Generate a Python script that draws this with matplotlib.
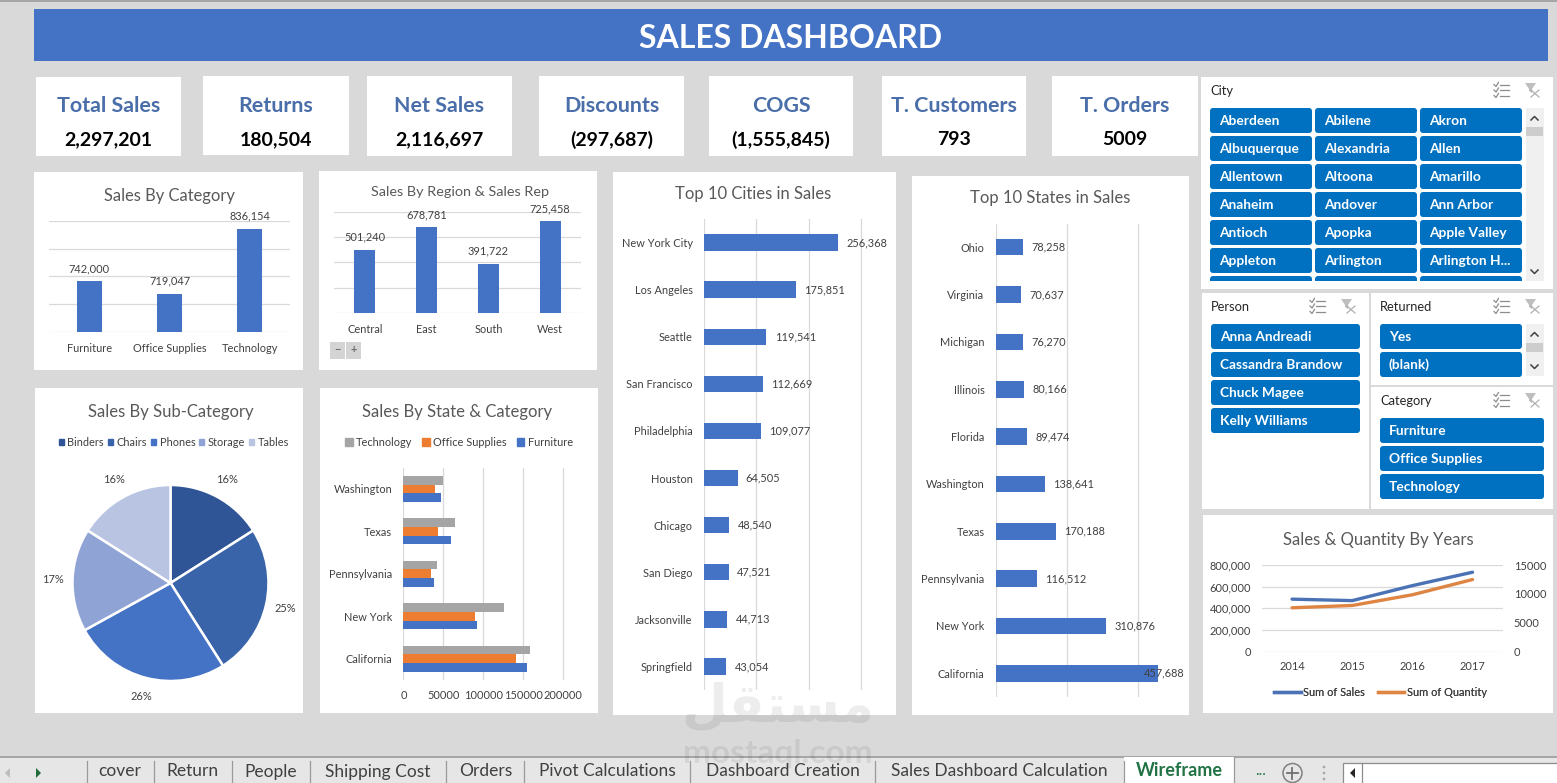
import matplotlib
matplotlib.use('Agg')
import matplotlib.pyplot as plt
from matplotlib.patches import Rectangle, FancyBboxPatch, Circle, Polygon, Patch
from matplotlib.lines import Line2D
from matplotlib.ticker import FuncFormatter

W, H = 1557, 783

kpi_names = ['Total Sales', 'Returns', 'Net Sales', 'Discounts', 'COGS', 'T. Customers', 'T. Orders']
kpi_values = ['2,297,201', '180,504', '2,116,697', '(297,687)', '(1,555,845)', '793', '5009']

category_names = ['Furniture', 'Office Supplies', 'Technology']
category_sales = [742000, 719047, 836154]

region_names = ['Central', 'East', 'South', 'West']
region_sales = [501240, 678781, 391722, 725458]

subcat_names = ['Binders', 'Chairs', 'Phones', 'Storage', 'Tables']
subcat_share = [16, 25, 26, 17, 16]

state_cat_names = ['Washington', 'Texas', 'Pennsylvania', 'New York', 'California']
state_technology = [49300, 64500, 41700, 126100, 158800]
state_office = [39300, 43100, 34100, 89600, 141200]
state_furniture = [47000, 59300, 37900, 92400, 155000]

city_names = ['New York City', 'Los Angeles', 'Seattle', 'San Francisco', 'Philadelphia',
              'Houston', 'Chicago', 'San Diego', 'Jacksonville', 'Springfield']
city_sales = [256368, 175851, 119541, 112669, 109077, 64505, 48540, 47521, 44713, 43054]

state_names = ['Ohio', 'Virginia', 'Michigan', 'Illinois', 'Florida', 'Washington',
               'Texas', 'Pennsylvania', 'New York', 'California']
state_sales = [78258, 70637, 76270, 80166, 89474, 138641, 170188, 116512, 310876, 457688]

years = ['2014', '2015', '2016', '2017']
year_sales = [484247, 470533, 609206, 733215]
year_quantity = [7581, 7979, 9837, 12476]

city_slicer = ['Aberdeen', 'Abilene', 'Akron', 'Albuquerque', 'Alexandria', 'Allen',
               'Allentown', 'Altoona', 'Amarillo', 'Anaheim', 'Andover', 'Ann Arbor',
               'Antioch', 'Apopka', 'Apple Valley', 'Appleton', 'Arlington', 'Arlington H...']
person_slicer = ['Anna Andreadi', 'Cassandra Brandow', 'Chuck Magee', 'Kelly Williams']
returned_slicer = ['Yes', '(blank)']
category_slicer = ['Furniture', 'Office Supplies', 'Technology']

sheet_tabs = ['cover', 'Return', 'People', 'Shipping Cost', 'Orders', 'Pivot Calculations',
              'Dashboard Creation', 'Sales Dashboard Calculation']

BLUE = '#4472C4'
ORANGE = '#ED7D31'
GREY = '#A5A5A5'
SLICER = '#0070C0'
GRID = '#D9D9D9'
TXT = '#404040'
TITLE = '#595959'
FONT = 'Lato'
SMALL = 7.9

plt.rcParams['font.family'] = [FONT, 'DejaVu Sans']

fig = plt.figure(figsize=(W / 100, H / 100), dpi=100, facecolor='#D9D9D9')

# full-size layer in pixel coordinates for cards, slicers and the sheet tabs
bg = fig.add_axes([0, 0, 1, 1], zorder=0)
bg.set_xlim(0, W)
bg.set_ylim(H, 0)
bg.axis('off')


def box(x0, y0, x1, y1, color='white', **kw):
    bg.add_patch(Rectangle((x0, y0), x1 - x0, y1 - y0, facecolor=color, edgecolor='none', **kw))


def px_axes(x0, y0, x1, y1):
    ax = fig.add_axes([x0 / W, 1 - y1 / H, (x1 - x0) / W, (y1 - y0) / H], zorder=2)
    ax.patch.set_alpha(0)
    for s in ax.spines.values():
        s.set_visible(False)
    ax.tick_params(length=0)
    return ax


def panel_title(x, y, label, size):
    bg.text(x, y, label, color=TITLE, fontsize=size, ha='center', va='center')


box(0, 0, W, 1.5, '#A6A6A6')

# header
box(34, 9, 1548, 61, BLUE)
bg.text(791, 38, 'SALES DASHBOARD', color='white', fontsize=23, fontweight='bold', ha='center', va='center')

# kpi cards
kpi_boxes = [(36, 77, 181, 156), (203, 76, 349, 155), (367, 76, 512, 156), (539, 76, 684, 156),
             (709, 76, 853, 156), (882, 76, 1026, 156), (1052, 76, 1198, 156)]
for (x0, y0, x1, y1), name, val in zip(kpi_boxes, kpi_names, kpi_values):
    box(x0, y0, x1, y1)
    bg.text((x0 + x1) / 2, 106, name, color='#4A6EA9', fontsize=15.4, fontweight='bold', ha='center', va='center')
    bg.text((x0 + x1) / 2, 139.5, val, color='black', fontsize=14, fontweight='bold', ha='center', va='center')

# chart panels
box(34, 172, 303, 370)
box(319, 171, 597, 370)
box(35, 388, 303, 713)
box(320, 388, 598, 713)
box(613, 172, 896, 715)
box(912, 176, 1189, 715)
box(1203, 515, 1553, 713)

panel_title(169, 195.5, 'Sales By Category', 11.9)
panel_title(460, 192.5, 'Sales By Region & Sales Rep', 10.4)
panel_title(170.5, 411.5, 'Sales By Sub-Category', 12)
panel_title(457.5, 411.5, 'Sales By State & Category', 12)
panel_title(753, 194.5, 'Top 10 Cities in Sales', 12)
panel_title(1050, 198.5, 'Top 10 States in Sales', 12)
panel_title(1378, 539.5, 'Sales & Quantity By Years', 12)


def column_chart(ax, names, values, ylim, step, width):
    ax.set_axisbelow(True)
    bars = ax.bar(range(len(names)), values, width=width, color=BLUE)
    ax.set_xlim(-0.5, len(names) - 0.5)
    ax.set_ylim(*ylim)
    ax.set_yticks(range(ylim[0], ylim[1] + 1, step))
    ax.set_yticklabels([])
    ax.yaxis.grid(True, color=GRID, lw=0.9)
    ax.set_xticks(range(len(names)))
    ax.set_xticklabels(names, fontsize=SMALL, color=TXT)
    ax.tick_params(axis='x', pad=8)
    ax.bar_label(bars, labels=[f'{v:,}' for v in values], padding=5, fontsize=SMALL, color=TXT)


ax = px_axes(49, 221, 290, 332)
column_chart(ax, category_names, category_sales, (650000, 850000), 50000, 0.31)

ax = px_axes(334, 212, 581, 313)
column_chart(ax, region_names, region_sales, (0, 800000), 200000, 0.34)

# pivot chart field buttons
box(330, 342, 345, 359, '#D4D4D4')
box(346, 342, 361, 359, '#D4D4D4')
bg.text(337.5, 350, '−', color='#707070', fontsize=8, fontweight='bold', ha='center', va='center')
bg.text(353.5, 350, '+', color='#707070', fontsize=8, fontweight='bold', ha='center', va='center')

# pie
pie_colors = ['#2F5597', '#3A64AA', '#4472C4', '#8FA3D5', '#B9C4E3']
ax = px_axes(170.5 - 122.5, 583 - 122.5, 170.5 + 122.5, 583 + 122.5)
wedges, _, autotexts = ax.pie(subcat_share, colors=pie_colors, startangle=90, counterclock=False,
                              autopct='%d%%', pctdistance=1.2, radius=1,
                              wedgeprops=dict(edgecolor='white', linewidth=1.8))
for t in autotexts:
    t.set_fontsize(SMALL)
    t.set_color(TXT)
leg = bg.legend(handles=[Patch(color=c, label=n) for c, n in zip(pie_colors, subcat_names)],
                loc='center', bbox_to_anchor=(174 / W, 1 - 442 / H), bbox_transform=fig.transFigure,
                ncol=5, frameon=False, fontsize=SMALL, handlelength=0.45, handleheight=0.45,
                handletextpad=0.35, columnspacing=0.35, labelcolor=TXT)
bg.add_artist(leg)

# state by category
ax = px_axes(403.5, 467.7, 583, 680)
ypos = list(range(len(state_cat_names)))
bh = 0.205
ax.barh([y - bh for y in ypos], state_technology, height=bh, color=GREY, label='Technology')
ax.barh(ypos, state_office, height=bh, color=ORANGE, label='Office Supplies')
ax.barh([y + bh for y in ypos], state_furniture, height=bh, color=BLUE, label='Furniture')
ax.set_ylim(len(ypos) - 0.5, -0.5)
ax.set_xlim(0, 225000)
ax.set_axisbelow(True)
ax.set_xticks([0, 50000, 100000, 150000, 200000])
ax.xaxis.grid(True, color=GRID, lw=0.9)
ax.set_yticks(ypos)
ax.set_yticklabels(state_cat_names, fontsize=SMALL, color=TXT)
ax.tick_params(axis='x', labelsize=SMALL, labelcolor=TXT, pad=7)
ax.tick_params(axis='y', pad=8)
leg = bg.legend(handles=[Patch(color=c, label=n) for c, n in
                         zip([GREY, ORANGE, BLUE], ['Technology', 'Office Supplies', 'Furniture'])],
                loc='center', bbox_to_anchor=(459 / W, 1 - 442 / H), bbox_transform=fig.transFigure,
                ncol=3, frameon=False, fontsize=SMALL, handlelength=0.7, handleheight=0.7,
                handletextpad=0.3, columnspacing=0.9, labelcolor=TXT)
bg.add_artist(leg)


def top_ten(ax, names, values, xmax, step, pad_pts):
    ypos = range(len(names))
    ax.set_axisbelow(True)
    ax.barh(ypos, values, height=0.35, color=BLUE)
    ax.set_ylim(len(names) - 0.5, -0.5)
    ax.set_xlim(0, xmax)
    ax.set_xticks(range(0, xmax, step))
    ax.set_xticklabels([])
    ax.xaxis.grid(True, color=GRID, lw=0.9)
    ax.set_yticks(list(ypos))
    ax.set_yticklabels(names, fontsize=SMALL, color=TXT)
    ax.tick_params(axis='y', pad=8)
    for y, v, p in zip(ypos, values, pad_pts):
        ax.annotate(f'{v:,}', (v, y), xytext=(p, 0), textcoords='offset points',
                    fontsize=SMALL, color=TXT, va='center', ha='left')


ax = px_axes(703.7, 219, 892, 690)
top_ten(ax, city_names, city_sales, 359000, 100000, [6] * 10)

ax = px_axes(995.6, 223.5, 1185, 697)
# the largest label sits back over its own bar
top_ten(ax, state_names, state_sales, 533000, 200000, [6] * 9 + [-10])

# sales and quantity lines on two axes
ax = px_axes(1262, 565, 1502.6, 651.5)
ax.plot(years, year_sales, color='#4A72B5', lw=2.4, solid_capstyle='round')
ax.set_xlim(-0.5, 3.5)
ax.set_ylim(0, 800000)
ax.set_yticks([0, 200000, 400000, 600000, 800000])
ax.yaxis.set_major_formatter(FuncFormatter(lambda v, _: f'{int(v):,}'))
ax.set_axisbelow(True)
ax.yaxis.grid(True, color=GRID, lw=0.9)
ax.tick_params(axis='y', labelsize=SMALL, labelcolor=TXT, pad=8)
ax.tick_params(axis='x', labelsize=SMALL, labelcolor=TXT, pad=7)
ax2 = ax.twinx()
ax2.patch.set_alpha(0)
for s in ax2.spines.values():
    s.set_visible(False)
ax2.plot(years, year_quantity, color='#DE8544', lw=2.4, solid_capstyle='round')
ax2.set_ylim(0, 15000)
ax2.set_yticks([0, 5000, 10000, 15000])
ax2.tick_params(axis='y', length=0, labelsize=SMALL, labelcolor=TXT, pad=8)
leg = bg.legend(handles=[Line2D([], [], color='#4A72B5', lw=2.4, label='Sum of Sales'),
                         Line2D([], [], color='#DE8544', lw=2.4, label='Sum of Quantity')],
                loc='center', bbox_to_anchor=(1380.5 / W, 1 - 692 / H), bbox_transform=fig.transFigure,
                ncol=2, frameon=False, fontsize=SMALL, handlelength=2.4, handletextpad=0.2,
                columnspacing=1.2, labelcolor=TXT)
bg.add_artist(leg)


def slicer_icons(x_list, x_filter, y):
    # multi-select checklist icon
    for k in range(3):
        yy = y + k * 5.5 - 5.5
        bg.plot([x_list + 6, x_list + 15], [yy, yy], color='#8C8C8C', lw=0.9)
        bg.plot([x_list, x_list + 2, x_list + 4.5], [yy, yy + 2, yy - 2], color='#8C8C8C', lw=0.9)
    # clear filter funnel
    bg.add_patch(Polygon([(x_filter, y - 7), (x_filter + 11, y - 7), (x_filter + 7, y - 1),
                          (x_filter + 7, y + 3), (x_filter + 4, y + 1), (x_filter + 4, y - 1)],
                         facecolor='#BFBFBF', edgecolor='none'))
    bg.plot([x_filter + 6, x_filter + 14], [y, y + 7], color='#B0B0B0', lw=0.9)
    bg.plot([x_filter + 14, x_filter + 6], [y, y + 7], color='#B0B0B0', lw=0.9)


def slicer_button(x0, y0, x1, y1, label, clip=None):
    b = FancyBboxPatch((x0 + 2, y0 + 2), x1 - x0 - 4, y1 - y0 - 4,
                       boxstyle='round,pad=2,rounding_size=3', facecolor=SLICER, edgecolor='none')
    bg.add_patch(b)
    if clip is not None:
        b.set_clip_path(clip)
    if label:
        bg.text(x0 + 9, (y0 + y1) / 2 + 0.4, label, color='white', fontsize=9.9, fontweight='bold',
                ha='left', va='center')


def scroll_bar(y0, y1, thumb0, thumb1):
    box(1526, y0, 1544, y1, '#F0F0F0')
    box(1526, thumb0, 1543, thumb1, '#CDCDCD')
    bg.plot([1531, 1534.5, 1538], [y0 + 12, y0 + 8.5, y0 + 12], color='#404040', lw=1.1)
    bg.plot([1531, 1534.5, 1538], [y1 - 11, y1 - 7.5, y1 - 11], color='#404040', lw=1.1)


def slicer_title(x, y, label):
    bg.text(x, y, label, color='#262626', fontsize=9.3, ha='left', va='center')


# city slicer
box(1201, 77, 1553, 289)
slicer_title(1210, 91, 'City')
slicer_icons(1494, 1525, 90)
col_x = [(1210, 1312), (1315, 1417), (1420, 1522)]
for i, name in enumerate(city_slicer):
    r, c = divmod(i, 3)
    slicer_button(col_x[c][0], 108 + r * 28, col_x[c][1], 133 + r * 28, name)
clip_rect = Rectangle((1201, 270), 340, 10.7, transform=bg.transData)
for c in range(3):
    slicer_button(col_x[c][0], 276, col_x[c][1], 301, '', clip=clip_rect)
scroll_bar(108, 281, 127, 136)

# person slicer
box(1202, 293, 1369, 509)
slicer_title(1211, 307, 'Person')
slicer_icons(1310, 1341, 306)
for i, name in enumerate(person_slicer):
    slicer_button(1211, 324 + i * 28, 1360, 349 + i * 28, name)

# returned slicer
box(1371, 293, 1553, 385)
slicer_title(1380, 307, 'Returned')
slicer_icons(1494, 1525, 306)
for i, name in enumerate(returned_slicer):
    slicer_button(1380, 324 + i * 28, 1522, 349 + i * 28, name)
scroll_bar(324, 376, 343, 352)

# category slicer
box(1371, 387, 1553, 509)
slicer_title(1380, 401, 'Category')
slicer_icons(1494, 1525, 400)
for i, name in enumerate(category_slicer):
    slicer_button(1380, 418 + i * 28, 1544, 443 + i * 28, name)

# sheet tab strip
box(0, 757, W, H, '#E6E6E6')
box(0, 756.2, W, 757.6, '#A6A6A6')
tab_edges = [86.7, 153.6, 231.6, 309.7, 446.4, 524.5, 690, 875, 1124.5]
for x in tab_edges:
    bg.plot([x, x], [761, H], color='#9A9A9A', lw=0.9)
for name, x0, x1 in zip(sheet_tabs, tab_edges[:-1], tab_edges[1:]):
    bg.text((x0 + x1) / 2, 771.5, name, color='#404040', fontsize=12.5, ha='center', va='center')
box(1124.5, 757, 1234.5, H, 'white')
bg.plot([1234.5, 1234.5], [757, H], color='#9A9A9A', lw=0.9)
bg.text(1179, 771, 'Wireframe', color='#217346', fontsize=13, fontweight='bold', ha='center', va='center')
bg.text(1261, 771, '...', color='#217346', fontsize=11, ha='center', va='center')
bg.add_patch(Polygon([(10, 768), (10, 778), (5, 773)], facecolor='#BDBDBD', edgecolor='none'))
bg.add_patch(Polygon([(36, 768), (36, 778), (41, 773)], facecolor='#1F6B3A', edgecolor='none'))
bg.add_patch(Circle((1292.5, 773), 9.5, facecolor='none', edgecolor='#808080', lw=1.1))
bg.plot([1287, 1298], [773, 773], color='#707070', lw=1.3)
bg.plot([1292.5, 1292.5], [767.5, 778.5], color='#707070', lw=1.3)
for yy in (767, 773, 779):
    bg.add_patch(Circle((1324, yy), 1.3, facecolor='#A6A6A6', edgecolor='none'))
bg.add_patch(Rectangle((1343, 763), 230, 24, facecolor='white', edgecolor='#8C8C8C', lw=0.9))
bg.plot([1362, 1362], [763, H], color='#8C8C8C', lw=0.9)
bg.add_patch(Polygon([(1355, 768), (1355, 778), (1350, 773)], facecolor='#262626', edgecolor='none'))

# site mark across the lower middle
wm = fig.add_axes([0, 0, 1, 1], zorder=5)
wm.set_xlim(0, W)
wm.set_ylim(H, 0)
wm.axis('off')
wm.text(778, 706, '\ufede\ufed8\ufe98\ufeb4\ufee3', color='black', alpha=0.07, fontsize=38,
        fontweight='bold', family='DejaVu Sans', ha='center', va='center')
wm.text(778, 753, 'mostaql.com', color='black', alpha=0.07, fontsize=24, fontweight='bold',
        ha='center', va='center')

fig.savefig('out.png', dpi=100, facecolor=fig.get_facecolor())
